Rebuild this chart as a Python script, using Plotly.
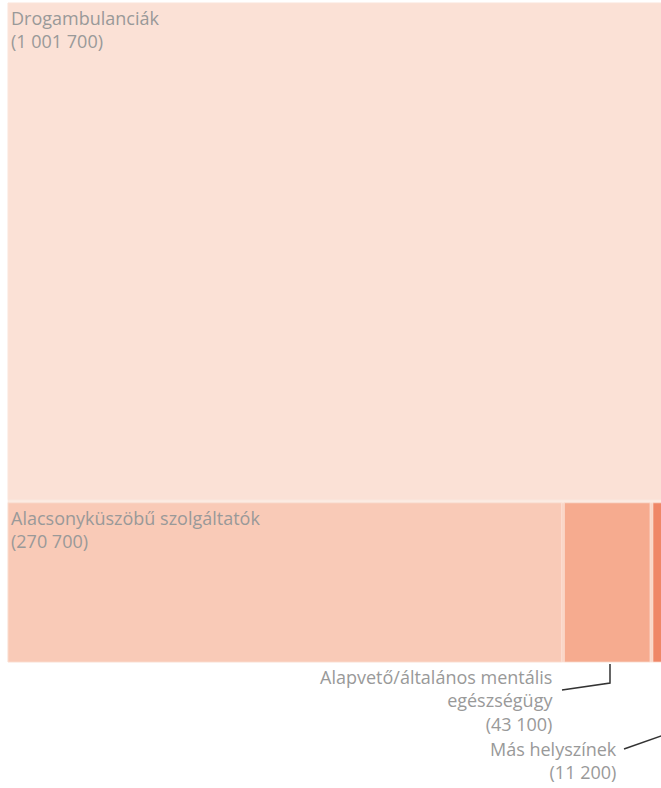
import plotly.graph_objects as go

# Data
labels = ["Drogambulanciák", "Alacsonyküszöbű szolgáltatók",
          "Alapvető/általános mentális egészségügy", "Más helyszínek"]
values = [1001700, 270700, 43100, 11200]
value_text = ["1 001 700", "270 700", "43 100", "11 200"]
colors = ["#FBE1D6", "#F9CAB7", "#F6AB8F", "#EF8767"]

# Hierarchy: root -> [Drogambulanciák, group] ; group -> the remaining three
ids = ["root", "group"] + ["n%d" % i for i in range(len(labels))]
node_labels = ["", ""] + labels
parents = ["", "root", "root", "group", "group", "group"]
node_values = [sum(values), sum(values[1:])] + values
node_colors = ["#FCEBE3", "#FAD6C7"] + colors
custom = ["", ""] + value_text
templates = ["", "", "%{label}<br>(%{customdata})", "%{label}<br>(%{customdata})", "", ""]

fig = go.Figure(go.Treemap(
    ids=ids,
    labels=node_labels,
    parents=parents,
    values=node_values,
    branchvalues="total",
    customdata=custom,
    texttemplate=templates,
    textposition="top left",
    textfont=dict(family="Open Sans", size=18, color="#999999"),
    marker=dict(colors=node_colors, line=dict(color="#FCE6DC", width=0.6),
                pad=dict(t=0, l=0, r=0, b=0)),
    tiling=dict(packing="dice-slice", flip="y"),
    pathbar=dict(visible=False),
    hoverinfo="skip",
    sort=False,
))

W, H = 675, 788
ml, mt, mr, mb = 8, 3, 2, 126

def px(x):
    return (x - ml) / (W - ml - mr)

def py(y):
    return 1 - (y - mt) / (H - mt - mb)

font = dict(family="Open Sans", size=18, color="#999999")
fig.add_annotation(x=px(555), y=py(663), xref="paper", yref="paper",
                   text="Alapvető/általános mentális<br>egészségügy<br>(" + value_text[2] + ")",
                   showarrow=False, xanchor="right", yanchor="top", align="right", font=font)
fig.add_annotation(x=px(619), y=py(735), xref="paper", yref="paper",
                   text="Más helyszínek<br>(" + value_text[3] + ")",
                   showarrow=False, xanchor="right", yanchor="top", align="right", font=font)

line = dict(color="#333333", width=1.5)
fig.add_shape(type="path", xref="paper", yref="paper",
              path="M %f %f L %f %f L %f %f" % (px(562), py(690), px(610), py(683), px(610), py(664)),
              line=line)
fig.add_shape(type="line", xref="paper", yref="paper",
              x0=px(624), y0=py(749), x1=px(675), y1=py(731), line=line)

fig.update_layout(width=W, height=H, margin=dict(l=ml, t=mt, r=mr, b=mb),
                  paper_bgcolor="white", plot_bgcolor="white", showlegend=False)

fig.write_html("out.html", config={"displayModeBar": False},
               post_script="document.body.style.margin='0';document.body.style.overflow='hidden';")
